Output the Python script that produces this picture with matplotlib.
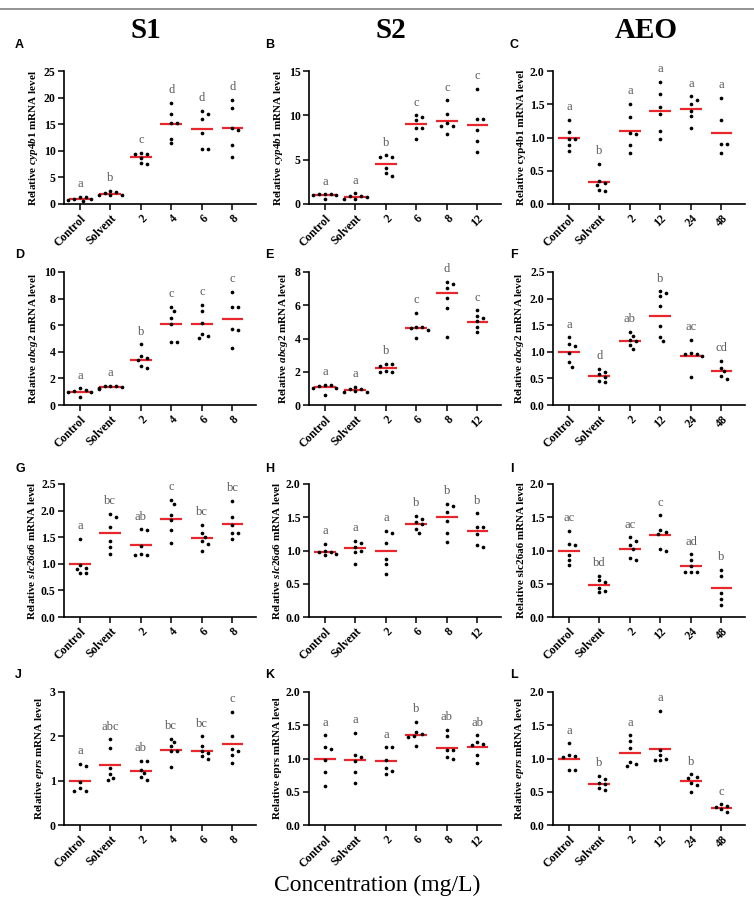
"""
Dot plots of relative mRNA levels (cyp4b1, abcg2, slc26a6, eprs) for S1, S2 and AEO
exposures. Each dot is one replicate, red bar = group mean, letters = significance groups.
"""
import matplotlib
matplotlib.use("Agg")
import matplotlib.pyplot as plt
import numpy as np

plt.rcParams["font.family"] = ["Liberation Serif", "DejaVu Serif"]
plt.rcParams["mathtext.fontset"] = "custom"
plt.rcParams["mathtext.rm"] = "Liberation Serif:bold"
plt.rcParams["mathtext.it"] = "Liberation Serif:italic:bold"

# ---- categories ----
S1_GROUPS = ["Control", "Solvent", "2", "4", "6", "8"]
S2_GROUPS = ["Control", "Solvent", "2", "6", "8", "12"]
AEO_GROUPS = ["Control", "Solvent", "2", "12", "24", "48"]

# ---- cyp4b1 ----
cyp_s1 = [[1.3, 0.6, 0.7, 1.0, 1.3, 0.9], [2.2, 2.5, 1.6, 1.6, 1.7, 2.0],
          [9.4, 9.4, 9.6, 7.6, 7.7, 8.6], [19.0, 16.9, 15.3, 15.3, 12.3, 11.4],
          [17.5, 17.0, 15.9, 13.3, 10.4, 10.3], [19.6, 18.1, 13.9, 14.2, 11.1, 8.8]]
cyp_s1_mean = [1.0, 1.9, 8.75, 15.0, 14.1, 14.3]
cyp_s1_sig = ["a", "b", "c", "d", "d", "d"]

cyp_s2 = [[1.0, 1.1, 1.1, 1.0, 0.6, 1.1], [1.2, 0.9, 0.9, 0.6, 0.6, 0.8],
          [5.5, 5.3, 5.3, 4.1, 3.5, 3.2], [10.0, 9.5, 9.8, 8.6, 8.6, 7.3],
          [11.7, 10.2, 8.8, 8.8, 9.1, 7.9], [13.0, 9.6, 9.6, 8.4, 7.1, 5.9]]
cyp_s2_mean = [0.98, 0.83, 4.47, 9.0, 9.4, 8.9]
cyp_s2_sig = ["a", "a", "b", "c", "c", "c"]

cyp_aeo = [[1.27, 1.09, 0.97, 0.97, 0.89, 0.79], [0.60, 0.35, 0.31, 0.29, 0.21, 0.20],
           [1.51, 1.31, 1.06, 1.07, 0.88, 0.77], [1.84, 1.66, 1.46, 1.35, 1.10, 0.97],
           [1.62, 1.57, 1.51, 1.40, 1.33, 1.14], [1.60, 1.26, 0.90, 0.90, 0.76]]
cyp_aeo_mean = [1.0, 0.33, 1.1, 1.4, 1.43, 1.07]
cyp_aeo_sig = ["a", "b", "a", "a", "a", "a"]

# ---- abcg2 ----
abc_s1 = [[1.25, 1.05, 1.0, 1.0, 0.6, 1.1], [1.4, 1.4, 1.3, 1.35, 1.2, 1.45],
          [4.55, 3.67, 3.5, 3.37, 2.95, 2.75], [7.37, 7.1, 6.55, 6.07, 4.75, 4.7],
          [7.55, 7.1, 6.2, 5.37, 5.17, 5.07], [8.52, 7.4, 7.4, 5.72, 5.65, 4.25]]
abc_s1_mean = [1.0, 1.37, 3.42, 6.07, 6.08, 6.5]
abc_s1_sig = ["a", "a", "b", "c", "c", "c"]

abc_s2 = [[1.22, 1.22, 1.15, 1.05, 1.02, 0.58], [1.1, 0.95, 0.95, 0.78, 0.8, 0.82],
          [2.46, 2.46, 2.32, 2.02, 1.96, 1.96], [5.56, 4.7, 4.68, 4.66, 4.5, 4.02],
          [7.4, 7.25, 7.05, 6.45, 5.85, 4.07], [5.7, 5.36, 5.26, 5.06, 4.7, 4.4]]
abc_s2_mean = [1.07, 0.92, 2.24, 4.66, 6.72, 5.0]
abc_s2_sig = ["a", "a", "b", "c", "d", "c"]

abc_aeo = [[1.27, 1.15, 1.1, 0.97, 0.8, 0.72], [0.68, 0.62, 0.58, 0.52, 0.45, 0.43],
           [1.38, 1.3, 1.22, 1.2, 1.13, 1.05], [2.14, 2.1, 2.05, 1.87, 1.48, 1.28, 1.2],
           [1.22, 0.97, 0.95, 0.93, 0.95, 0.52], [0.83, 0.7, 0.63, 0.55, 0.49]]
abc_aeo_mean = [1.0, 0.54, 1.2, 1.68, 0.93, 0.64]
abc_aeo_sig = ["a", "d", "ab", "b", "ac", "cd"]

# ---- slc26a6 ----
slc_s1 = [[1.47, 0.97, 0.93, 0.90, 0.83, 0.82], [1.94, 1.88, 1.69, 1.43, 1.32, 1.18],
          [1.65, 1.63, 1.33, 1.19, 1.17, 1.17], [2.2, 2.13, 1.92, 1.83, 1.63, 1.4],
          [1.73, 1.57, 1.5, 1.43, 1.37, 1.25], [2.18, 1.88, 1.73, 1.58, 1.58, 1.47]]
slc_s1_mean = [1.0, 1.57, 1.36, 1.85, 1.48, 1.74]
slc_s1_sig = ["a", "bc", "ab", "c", "bc", "bc"]

slc_s2 = [[1.1, 1.0, 0.97, 0.97, 0.93, 0.95], [1.15, 1.12, 1.05, 1.0, 0.97, 0.8],
          [1.3, 1.26, 1.12, 0.87, 0.8, 0.65], [1.52, 1.47, 1.43, 1.4, 1.33, 1.27],
          [1.7, 1.67, 1.58, 1.45, 1.26, 1.13], [1.56, 1.35, 1.35, 1.25, 1.08, 1.05]]
slc_s2_mean = [0.98, 1.04, 1.0, 1.4, 1.51, 1.29]
slc_s2_sig = ["a", "a", "a", "b", "b", "b"]

slc_aeo = [[1.3, 1.1, 1.08, 0.93, 0.85, 0.78], [0.62, 0.55, 0.52, 0.44, 0.39, 0.37],
           [1.2, 1.15, 1.08, 1.02, 0.88, 0.85], [1.53, 1.31, 1.28, 1.25, 1.03, 1.0],
           [0.94, 0.85, 0.76, 0.67, 0.67, 0.67], [0.71, 0.62, 0.36, 0.27, 0.18]]
slc_aeo_mean = [1.0, 0.48, 1.02, 1.23, 0.76, 0.43]
slc_aeo_sig = ["ac", "bd", "ac", "c", "ad", "b"]

# ---- eprs ----
eprs_s1 = [[1.38, 1.33, 0.97, 0.83, 0.76, 0.76], [1.93, 1.74, 1.29, 1.14, 1.05, 1.01],
           [1.45, 1.45, 1.25, 1.17, 1.08, 1.02], [1.95, 1.87, 1.78, 1.68, 1.67, 1.3],
           [2.0, 1.78, 1.68, 1.63, 1.55, 1.48], [2.56, 2.0, 1.72, 1.68, 1.58, 1.4]]
eprs_s1_mean = [1.0, 1.36, 1.22, 1.7, 1.68, 1.82]
eprs_s1_sig = ["a", "abc", "ab", "bc", "bc", "c"]

eprs_s2 = [[1.35, 1.18, 1.15, 0.98, 0.79, 0.59], [1.39, 1.05, 1.02, 0.96, 0.79, 0.63],
           [1.17, 1.17, 0.98, 0.85, 0.81, 0.77], [1.55, 1.4, 1.37, 1.34, 1.32, 1.19],
           [1.43, 1.34, 1.13, 1.13, 1.03, 0.99], [1.35, 1.25, 1.22, 1.21, 1.05, 0.93]]
eprs_s2_mean = [1.0, 0.97, 0.96, 1.35, 1.16, 1.17]
eprs_s2_sig = ["a", "a", "a", "b", "ab", "ab"]

eprs_aeo = [[1.23, 1.06, 1.04, 1.02, 0.83, 0.82], [0.74, 0.69, 0.63, 0.62, 0.56, 0.52],
            [1.35, 1.26, 1.16, 0.94, 0.91, 0.88], [1.72, 1.13, 1.05, 1.0, 0.98, 0.98],
            [0.76, 0.72, 0.7, 0.63, 0.6, 0.5], [0.31, 0.29, 0.27, 0.24, 0.2]]
eprs_aeo_mean = [1.0, 0.62, 1.09, 1.15, 0.66, 0.26]
eprs_aeo_sig = ["a", "b", "a", "a", "b", "c"]

RED = "#e8262b"
GREY_TXT = "#5a5a5a"
W, H = 754, 915

# panel spec: (letter, groups, values, means, sig, ylabel, ymax, ystep, yfmt)
PANELS = [
    ("A", S1_GROUPS, cyp_s1, cyp_s1_mean, cyp_s1_sig, r"Relative $\mathit{cyp4b1}$ mRNA level", 25, 5, "{:.0f}"),
    ("B", S2_GROUPS, cyp_s2, cyp_s2_mean, cyp_s2_sig, r"Relative $\mathit{cyp4b1}$ mRNA level", 15, 5, "{:.0f}"),
    ("C", AEO_GROUPS, cyp_aeo, cyp_aeo_mean, cyp_aeo_sig, "Relative cyp4b1 mRNA level", 2.0, 0.5, "{:.1f}"),
    ("D", S1_GROUPS, abc_s1, abc_s1_mean, abc_s1_sig, r"Relative $\mathit{abcg2}$ mRNA level", 10, 2, "{:.0f}"),
    ("E", S2_GROUPS, abc_s2, abc_s2_mean, abc_s2_sig, r"Relative $\mathit{abcg2}$ mRNA level", 8, 2, "{:.0f}"),
    ("F", AEO_GROUPS, abc_aeo, abc_aeo_mean, abc_aeo_sig, r"Relative $\mathit{abcg2}$ mRNA level", 2.5, 0.5, "{:.1f}"),
    ("G", S1_GROUPS, slc_s1, slc_s1_mean, slc_s1_sig, r"Relative $\mathit{slc26a6}$ mRNA level", 2.5, 0.5, "{:.1f}"),
    ("H", S2_GROUPS, slc_s2, slc_s2_mean, slc_s2_sig, r"Relative $\mathit{slc26a6}$ mRNA level", 2.0, 0.5, "{:.1f}"),
    ("I", AEO_GROUPS, slc_aeo, slc_aeo_mean, slc_aeo_sig, "Relative slc26a6 mRNA level", 2.0, 0.5, "{:.1f}"),
    ("J", S1_GROUPS, eprs_s1, eprs_s1_mean, eprs_s1_sig, r"Relative $\mathit{eprs}$ mRNA level", 3, 1, "{:.0f}"),
    ("K", S2_GROUPS, eprs_s2, eprs_s2_mean, eprs_s2_sig, "Relative eprs mRNA level", 2.0, 0.5, "{:.1f}"),
    ("L", AEO_GROUPS, eprs_aeo, eprs_aeo_mean, eprs_aeo_sig, r"Relative $\mathit{eprs}$ mRNA level", 2.0, 0.5, "{:.1f}"),
]

COL_LEFT = [64, 309, 553]
COL_W = 192
ROW_TOP = [71, 272, 484, 692]
ROW_H = 133
XLIM = (-0.52, 5.77)


def swarm(vals, px_per_y, px_per_x, d=4.4):
    """simple beeswarm: horizontal offsets (in data units) so dots don't overlap"""
    vals = np.asarray(vals, float)
    offs = np.zeros(len(vals))
    placed = []
    for k in np.argsort(-vals):
        y = vals[k] * px_per_y
        for step in [0, 1, -1, 2, -2, 3, -3, 4, -4]:
            x = step * d * 0.65
            if all((x - px) ** 2 + (y - py) ** 2 >= d * d for px, py in placed):
                break
        placed.append((x, y))
        offs[k] = x / px_per_x
    return offs


fig = plt.figure(figsize=(W / 100, H / 100), dpi=100)

# top rule
fig.add_artist(plt.Line2D([0, 1], [1 - 9 / H, 1 - 9 / H], color="#808080", lw=1.2))

for title, cx in zip(["S1", "S2", "AEO"], [146, 391, 646]):
    fig.text(cx / W, 1 - 31 / H, title, ha="center", va="center",
             fontsize=21, fontweight="bold")

for i, (letter, groups, vals, means, sig, ylabel, ymax, ystep, yfmt) in enumerate(PANELS):
    r, c = divmod(i, 3)
    left, top = COL_LEFT[c], ROW_TOP[r]
    ax = fig.add_axes([left / W, 1 - (top + ROW_H) / H, COL_W / W, ROW_H / H])

    px_per_x = COL_W / (XLIM[1] - XLIM[0])
    px_per_y = ROW_H / ymax
    for g, v in enumerate(vals):
        offs = swarm(v, px_per_y, px_per_x)
        ax.scatter(g + offs, v, s=7, color="black", zorder=3, linewidths=0)
        ax.hlines(means[g], g - 0.36, g + 0.36, color=RED, lw=1.6, zorder=2)
        ax.text(g, max(v) + 0.05 * ymax, sig[g], ha="center", va="bottom",
                fontsize=9, color=GREY_TXT, clip_on=False)

    ax.set_xlim(*XLIM)
    ax.set_ylim(0, ymax)
    ticks = np.arange(0, ymax + ystep / 2, ystep)
    ax.set_yticks(ticks)
    ax.set_yticklabels([yfmt.format(t) for t in ticks], fontsize=8.5, fontweight="bold")
    ax.set_xticks(range(len(groups)))
    ax.set_xticklabels(groups, rotation=45, ha="right", rotation_mode="anchor",
                       fontsize=8.5, fontweight="bold")
    ax.set_ylabel(ylabel, fontsize=8, fontweight="bold", labelpad=3)

    for s in ["top", "right"]:
        ax.spines[s].set_visible(False)
    for s in ["left", "bottom"]:
        ax.spines[s].set_linewidth(1.2)
    ax.tick_params(direction="out", length=4, width=1.1, pad=2)

    lx = 15 if c == 0 else (265 if c == 1 else 510)
    ly = [45, 255, 469, 675][r]
    fig.text(lx / W, 1 - ly / H, letter, ha="left", va="center", fontsize=9,
             fontweight="bold", family="Liberation Sans")

fig.text(377 / W, 1 - 885 / H, "Concentration (mg/L)", ha="center", va="center", fontsize=17)

fig.savefig("out.png", dpi=100)
